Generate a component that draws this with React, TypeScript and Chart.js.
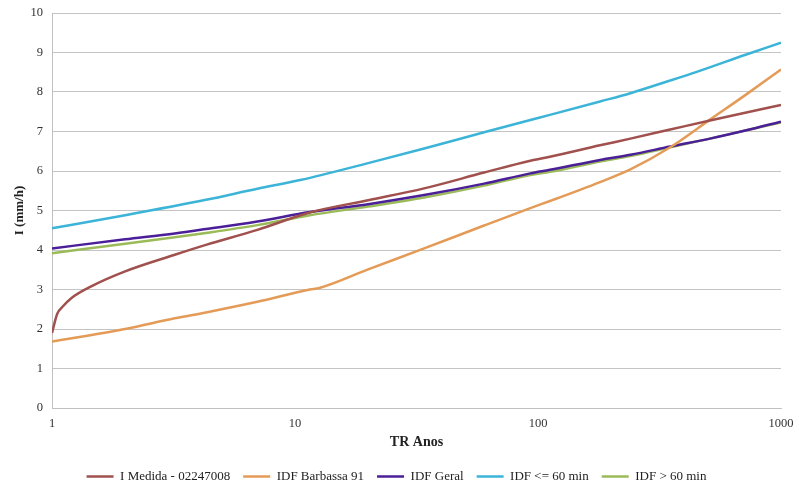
import { useEffect, useRef } from "react";
import { Chart, registerables } from "chart.js";
Chart.register(...registerables);

// Return period (years) and intensities (mm/h)
const TR_MEDIDA = [1, 1.05, 1.1, 1.2, 1.45, 2, 3.2, 4.3, 7, 11.5, 20, 34, 60, 93, 112, 180, 240, 350, 510, 720, 1000];
const I_MEDIDA = [1.9, 2.38, 2.55, 2.78, 3.08, 3.46, 3.88, 4.13, 4.51, 4.95, 5.26, 5.56, 5.96, 6.26, 6.36, 6.65, 6.82, 7.05, 7.28, 7.48, 7.67];

const TR_BARBASSA = [1, 2, 3.2, 4.3, 7, 11.5, 12.6, 20, 34, 60, 93, 112, 180, 240, 350, 510, 720, 1000];
const I_BARBASSA = [1.68, 2.0, 2.27, 2.42, 2.69, 3.0, 3.04, 3.51, 4.04, 4.62, 5.06, 5.24, 5.72, 6.04, 6.6, 7.3, 7.94, 8.57];

const TR_GERAL = [1, 2, 3.2, 4.3, 7, 11.5, 20, 34, 60, 93, 112, 180, 240, 350, 510, 720, 1000];
const I_GERAL = [4.04, 4.27, 4.42, 4.53, 4.72, 4.96, 5.16, 5.39, 5.68, 5.94, 6.03, 6.28, 6.41, 6.62, 6.82, 7.03, 7.25];

const TR_LE60 = [1, 2, 4.3, 7, 10.5, 20, 34, 60, 93, 112, 180, 240, 350, 450, 720, 1000];
const I_LE60 = [4.55, 4.88, 5.27, 5.55, 5.77, 6.2, 6.57, 6.98, 7.29, 7.42, 7.76, 7.97, 8.29, 8.51, 8.95, 9.25];

const TR_GT60 = [1, 2, 3.2, 4.3, 7, 11.5, 20, 34, 60, 93, 112, 180, 240, 350, 510, 720, 1000];
const I_GT60 = [3.92, 4.16, 4.32, 4.43, 4.63, 4.88, 5.1, 5.33, 5.63, 5.9, 5.98, 6.24, 6.38, 6.6, 6.82, 7.03, 7.23];

const X_TICKS = [1, 10, 100, 1000];
const LABELS = ["I Medida - 02247008", "IDF Barbassa 91", "IDF Geral", "IDF <= 60 min", "IDF > 60 min"];
const COLORS = ["#A0504D", "#E49B57", "#4A1F98", "#3BB4D8", "#9BBB59"];

const FONT = "'Liberation Serif', 'Times New Roman', serif";

export default function App() {
  const ref = useRef<HTMLCanvasElement>(null);
  useEffect(() => {
    const mk = (i: number, xs: number[], ys: number[]) => ({
      label: LABELS[i],
      data: xs.map((x, k) => ({ x, y: ys[k] })),
      borderColor: COLORS[i],
      backgroundColor: COLORS[i],
      borderWidth: 2.5,
      pointRadius: 0,
      pointStyle: "line" as const,
      cubicInterpolationMode: "monotone" as const,
      fill: false,
    });
    const chart = new Chart(ref.current!, {
      type: "line",
      data: {
        datasets: [
          mk(0, TR_MEDIDA, I_MEDIDA),
          mk(1, TR_BARBASSA, I_BARBASSA),
          mk(2, TR_GERAL, I_GERAL),
          mk(3, TR_LE60, I_LE60),
          mk(4, TR_GT60, I_GT60),
        ],
      },
      options: {
        responsive: false,
        animation: false,
        layout: { padding: { left: 8, right: 14, top: 0, bottom: -7 } },
        plugins: {
          tooltip: { enabled: false },
          legend: {
            position: "bottom",
            labels: {
              usePointStyle: true,
              pointStyle: "line",
              pointStyleWidth: 27,
              color: "#222",
              padding: 13,
              font: { family: FONT, size: 13 },
            },
          },
        },
        scales: {
          x: {
            type: "logarithmic",
            min: 1,
            max: 1000,
            afterBuildTicks: (s: any) => {
              s.ticks = X_TICKS.map((v) => ({ value: v }));
            },
            afterFit: (s: any) => {
              s.height = 49;
              s.paddingLeft = 0;
              s.paddingRight = 18;
            },
            ticks: {
              callback: (v: any) => String(v),
              autoSkip: false,
              maxRotation: 0,
              color: "#333",
              padding: 8,
              font: { family: FONT, size: 12.5 },
            },
            grid: { display: false, drawTicks: false },
            border: { display: true, color: "#c0c0c0", width: 1 },
            title: {
              display: true,
              text: "TR Anos",
              color: "#222",
              padding: { top: 3, bottom: 6 },
              font: { family: FONT, size: 14, weight: "bold" },
            },
          },
          y: {
            min: 0,
            max: 10,
            afterFit: (s: any) => {
              s.width = 44;
              s.paddingTop = 13;
              s.paddingBottom = 0;
            },
            ticks: {
              stepSize: 1,
              color: "#333",
              padding: 9,
              font: { family: FONT, size: 12.5 },
            },
            grid: { color: "#c4c4c4", drawTicks: false, lineWidth: 1 },
            border: { display: true, color: "#c0c0c0", width: 1 },
            title: {
              display: true,
              text: "I (mm/h)",
              color: "#222",
              padding: { top: 4, bottom: 0 },
              font: { family: FONT, size: 13, weight: "bold" },
            },
          },
        },
      },
    });
    return () => chart.destroy();
  }, []);
  return (
    <canvas
      ref={ref}
      width={799}
      height={486}
      style={{ position: "fixed", left: 0, top: 0, display: "block", background: "#fff" }}
    />
  );
}
